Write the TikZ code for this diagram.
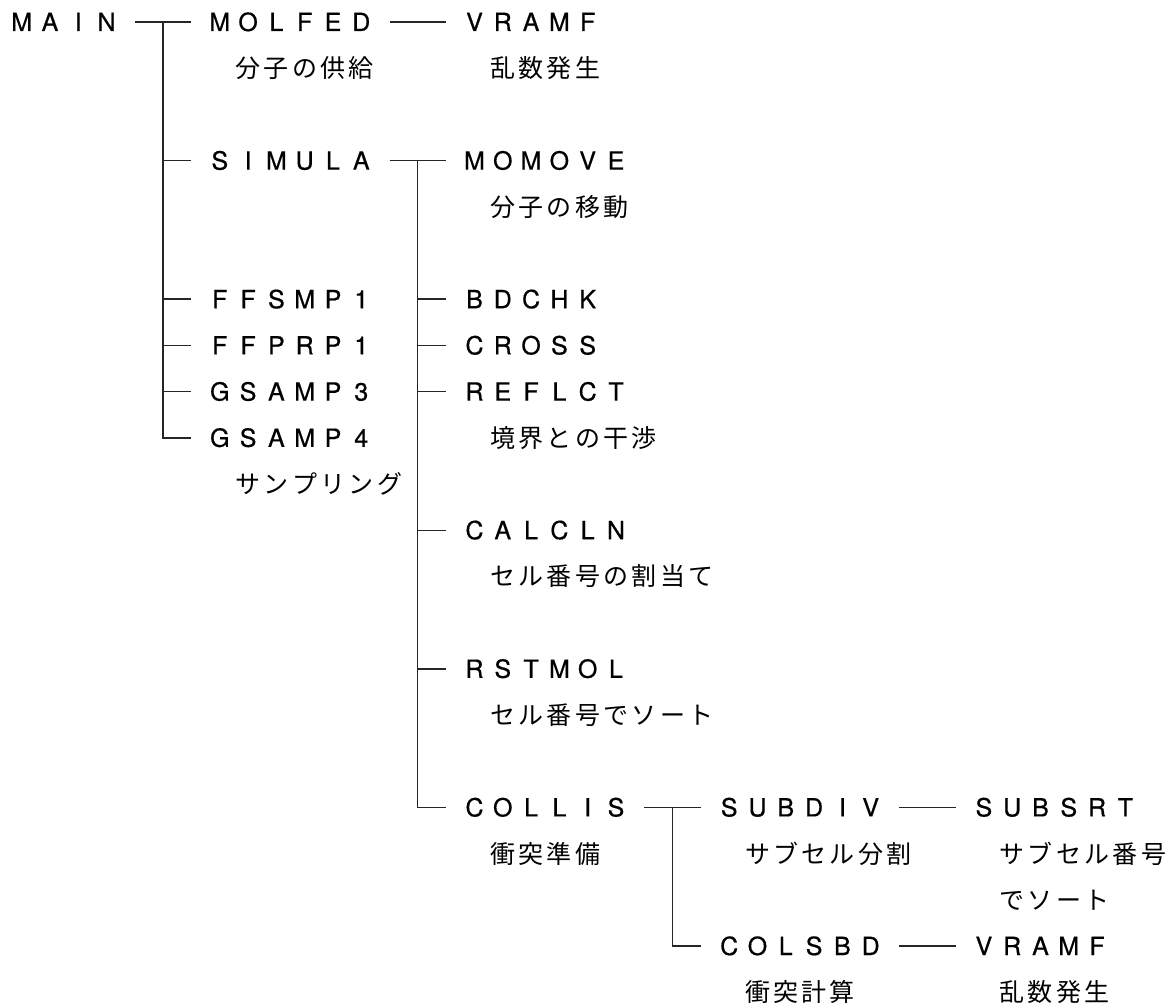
\documentclass[tikz,border=0pt]{standalone}
\usepackage{fontspec}
\setmainfont{TeX Gyre Heros}[FakeBold=0.6]
\newfontfamily\jpfont{Noto Sans CJK JP}
\makeatletter
% every character sits centred in a cell of fixed width (full-width layout)
\newlength\cellw
\setlength\cellw{28.3pt}
\newcommand\cells[1]{\@tfor\cell@c:=#1\do{\makebox[\cellw][c]{\cell@c}}}
\makeatother
\tikzset{
  lbl/.style={anchor=west, inner sep=0pt, font=\fontsize{25}{25}\selectfont,
              text height=18pt, text depth=0pt},
  jp/.style={anchor=west, inner sep=0pt, font=\jpfont\fontsize{25}{25}\selectfont,
             text height=22pt, text depth=3pt},
  wire/.style={line width=1.4pt, draw=black!85},
}
\begin{document}
\begin{tikzpicture}[x=1pt, y=1pt]
  \fill[white] (0,0) rectangle (1175,-1008);
  \useasboundingbox (0,0) rectangle (1175,-1008);

  % routine names
  \node[lbl] (main)   at (7.35,-22)    {\cells{MAIN}};
  \node[lbl] (molfed) at (205.45,-22)  {\cells{MOLFED}};
  \node[lbl] (vramfa) at (460.15,-22)  {\cells{VRAMF}};
  \node[lbl] (simula) at (205.45,-160.6) {\cells{SIMULA}};
  \node[lbl] (momove) at (460.15,-160.6) {\cells{MOMOVE}};
  \node[lbl] (ffsmp)  at (205.45,-299.2) {\cells{FFSMP1}};
  \node[lbl] (ffprp)  at (205.45,-345.4) {\cells{FFPRP1}};
  \node[lbl] (gsampc) at (205.45,-391.6) {\cells{GSAMP3}};
  \node[lbl] (gsampd) at (205.45,-437.8) {\cells{GSAMP4}};
  \node[lbl] (bdchk)  at (460.15,-299.2) {\cells{BDCHK}};
  \node[lbl] (cross)  at (460.15,-345.4) {\cells{CROSS}};
  \node[lbl] (reflct) at (460.15,-391.6) {\cells{REFLCT}};
  \node[lbl] (calcln) at (460.15,-530.2) {\cells{CALCLN}};
  \node[lbl] (rstmol) at (460.15,-668.8) {\cells{RSTMOL}};
  \node[lbl] (collis) at (460.15,-807.4) {\cells{COLLIS}};
  \node[lbl] (subdiv) at (714.85,-807.4) {\cells{SUBDIV}};
  \node[lbl] (subsrt) at (969.55,-807.4) {\cells{SUBSRT}};
  \node[lbl] (colsbd) at (714.85,-946)   {\cells{COLSBD}};
  \node[lbl] (vramfb) at (969.55,-946)   {\cells{VRAMF}};

  % descriptions
  \node[jp] (dmolfed) at (233.75,-68.2)  {\cells{分子の供給}};
  \node[jp] (dvramfa) at (488.45,-68.2)  {\cells{乱数発生}};
  \node[jp] (dmomove) at (488.45,-206.8) {\cells{分子の移動}};
  \node[jp] (dreflct) at (488.45,-437.8) {\cells{境界との干渉}};
  \node[jp] (dgsamp)  at (233.75,-484)   {\cells{サンプリング}};
  \node[jp] (dcalcln) at (488.45,-576.4) {\cells{セル番号の割当て}};
  \node[jp] (drstmol) at (488.45,-715)   {\cells{セル番号でソート}};
  \node[jp] (dcollis) at (488.45,-853.6) {\cells{衝突準備}};
  \node[jp] (dsubdiv) at (743.15,-853.6) {\cells{サブセル分割}};
  \node[jp] (dsubsrt) at (997.85,-853.6) {\cells{サブセル番号}};
  \node[jp] (dsubsrb) at (997.85,-899.8) {\cells{でソート}};
  \node[jp] (dcolsbd) at (743.15,-992.2) {\cells{衝突計算}};
  \node[jp] (dvramfb) at (997.85,-992.2) {\cells{乱数発生}};

  % branch points
  \coordinate (ja) at (163,-22);
  \coordinate (jb) at (417.7,-160.6);
  \coordinate (jc) at (672.4,-807.4);

  % MAIN and its callees
  \draw[wire] ([xshift=14pt]main.east) -- ([xshift=-14pt]molfed.west);
  \draw[wire] (ja) |- ([xshift=-14pt]gsampd.west);
  \foreach \n in {simula,ffsmp,ffprp,gsampc}
    \draw[wire] (ja |- \n.west) -- ([xshift=-14pt]\n.west);
  \draw[wire] ([xshift=14pt]molfed.east) -- ([xshift=-14pt]vramfa.west);

  % SIMULA and its callees
  \draw[wire] ([xshift=14pt]simula.east) -- ([xshift=-14pt]momove.west);
  \draw[wire] (jb) |- ([xshift=-14pt]collis.west);
  \foreach \n in {bdchk,cross,reflct,calcln,rstmol}
    \draw[wire] (jb |- \n.west) -- ([xshift=-14pt]\n.west);

  % COLLIS and its callees
  \draw[wire] ([xshift=14pt]collis.east) -- ([xshift=-14pt]subdiv.west);
  \draw[wire] (jc) |- ([xshift=-14pt]colsbd.west);
  \draw[wire] ([xshift=14pt]subdiv.east) -- ([xshift=-14pt]subsrt.west);
  \draw[wire] ([xshift=14pt]colsbd.east) -- ([xshift=-14pt]vramfb.west);
\end{tikzpicture}
\end{document}
